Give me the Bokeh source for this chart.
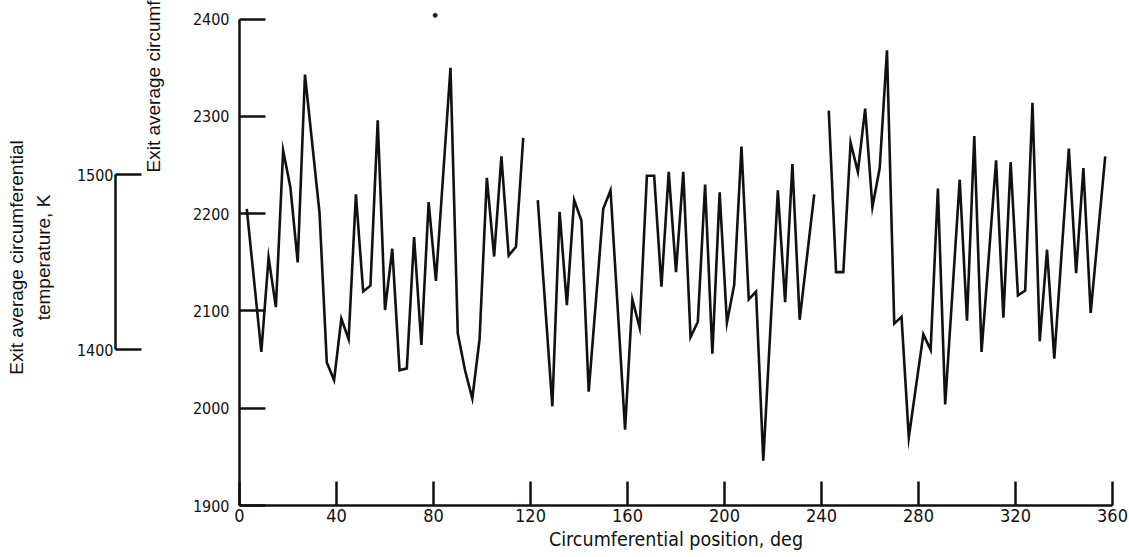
import numpy as np
from bokeh.plotting import figure
from bokeh.models import Range1d, LinearAxis, FixedTicker, ColumnDataSource, Title
from bokeh.embed import file_html
from bokeh.resources import INLINE

nan = float("nan")

# ---- data (circumferential position in deg, temperature in deg F)
position_deg = [3, 9, 12, 15, 18, 21, 24, 27, 33, 36, 39, 42, 45, 48, 51, 54, 57, 60,
                63, 66, 69, 72, 75, 78, 81, 87, 90, 93, 96, 99, 102, 105, 108, 111, 114, 117, 120,
                123, 129, 132, 135, 138, 141, 144, 150, 153, 159, 162, 165, 168, 171, 174, 177,
                180, 183, 186, 189, 192, 195, 198, 201, 204, 207, 210, 213, 216, 222, 225, 228,
                231, 237, 240,
                243, 246, 249, 252, 255, 258, 261, 264, 267, 270, 273, 276, 282, 285, 288, 291,
                297, 300, 303, 306, 312, 315, 318, 321, 324, 327, 330, 333, 336, 342, 345, 348,
                351, 357]
temperature_F = [2205, 2058, 2155, 2104, 2265, 2227, 2150, 2343, 2201, 2047, 2029, 2092, 2071,
                 2220, 2120, 2126, 2296, 2101, 2164, 2039, 2041, 2176, 2065, 2212, 2131, 2350,
                 2077, 2039, 2010, 2071, 2237, 2156, 2259, 2157, 2166, 2278, nan,
                 2214, 2002, 2202, 2106, 2214, 2193, 2017, 2205, 2224, 1978, 2112, 2083, 2239,
                 2239, 2125, 2243, 2140, 2243, 2073, 2089, 2230, 2056, 2222, 2088, 2127, 2269,
                 2112, 2120, 1946, 2224, 2109, 2251, 2091, 2220, nan,
                 2306, 2140, 2140, 2273, 2243, 2308, 2207, 2247, 2368, 2087, 2094, 1970, 2076,
                 2060, 2226, 2004, 2235, 2090, 2280, 2058, 2255, 2093, 2253, 2116, 2121, 2314,
                 2069, 2163, 2051, 2267, 2139, 2247, 2098, 2259]
speck_deg = [80.7]
speck_F = [2404]

x_ticks = [0, 40, 80, 120, 160, 200, 240, 280, 320, 360]
y_ticks_F = [1900, 2000, 2100, 2200, 2300, 2400]
y_ticks_K = [1400, 1500]

x_title = "Circumferential position, deg"
yF_title = "Exit average circumferential temperature, \u00b0F"
yK_title = "Exit average circumferential\ntemperature, K"


def f_to_k(f):
    return (f + 459.67) / 1.8


NARROW = "DejaVu Sans Condensed, Liberation Sans Narrow, sans-serif"
SANS = "Liberation Sans, Arial, sans-serif"
INK = "#111111"

y_lo, y_hi = 1900, 2410

p = figure(width=1129, height=557, output_backend="svg", toolbar_location=None,
           x_range=Range1d(0, 360), y_range=Range1d(y_lo, y_hi),
           min_border_left=239, min_border_right=17, min_border_top=9, min_border_bottom=52)
p.extra_y_ranges = {"kelvin": Range1d(f_to_k(y_lo), f_to_k(y_hi))}
p.outline_line_color = None
p.grid.visible = False
p.background_fill_color = "white"
p.border_fill_color = "white"


def style_axis(ax, tick_in, size, standoff):
    ax.major_tick_in = tick_in
    ax.major_tick_out = 0
    ax.minor_tick_in = 0
    ax.minor_tick_out = 0
    ax.axis_line_width = 2.5
    ax.axis_line_color = INK
    ax.major_tick_line_width = 2.5
    ax.major_tick_line_color = INK
    ax.major_label_standoff = standoff
    ax.major_label_text_font = NARROW
    ax.major_label_text_font_size = size
    ax.major_label_text_color = INK


def title_only_axis(label, standoff, size="19px", line_height=1.2):
    ax = LinearAxis(ticker=FixedTicker(ticks=[]), axis_label=label)
    ax.axis_line_color = None
    ax.major_tick_line_color = None
    ax.minor_tick_line_color = None
    ax.major_tick_in = 0
    ax.major_tick_out = 0
    ax.minor_tick_in = 0
    ax.minor_tick_out = 0
    ax.major_label_standoff = 0
    ax.axis_label_standoff = standoff
    ax.axis_label_text_font = SANS
    ax.axis_label_text_font_size = size
    ax.axis_label_text_font_style = "normal"
    ax.axis_label_text_color = INK
    ax.axis_label_text_line_height = line_height
    return ax


# x axis
xa = p.xaxis[0]
xa.ticker = FixedTicker(ticks=x_ticks)
style_axis(xa, 24, "18px", 3)
xa.axis_label = x_title
xa.axis_label_text_font = NARROW
xa.axis_label_text_font_size = "19.5px"
xa.axis_label_text_font_style = "normal"
xa.axis_label_text_color = INK
xa.axis_label_standoff = 3

# main (deg F) y axis
ya = p.yaxis[0]
ya.ticker = FixedTicker(ticks=y_ticks_F)
ya.bounds = (1900, 2400)
style_axis(ya, 26, "16px", 10)

# deg F title: starts low on the left and runs off the top edge, as in the reference
p.add_layout(Title(text=yF_title, align="left", offset=333, standoff=51,
                   vertical_align="bottom", text_font=SANS, text_font_size="19px",
                   text_font_style="normal", text_color=INK), "left")

# kelvin axis
ka = LinearAxis(y_range_name="kelvin", ticker=FixedTicker(ticks=y_ticks_K), bounds=(1400, 1500))
style_axis(ka, 26, "16px", 2)
p.add_layout(ka, "left")

# kelvin title (two lines)
p.add_layout(title_only_axis(yK_title, 20, line_height=1.27), "left")

src = ColumnDataSource(data=dict(x=np.array(position_deg, dtype=float),
                                 y=np.array(temperature_F, dtype=float)))
p.line("x", "y", source=src, line_width=2.6, line_color=INK, line_join="miter")
p.scatter(speck_deg, speck_F, size=4, color="#222222")

open("out.html", "w").write(file_html(p, INLINE))
